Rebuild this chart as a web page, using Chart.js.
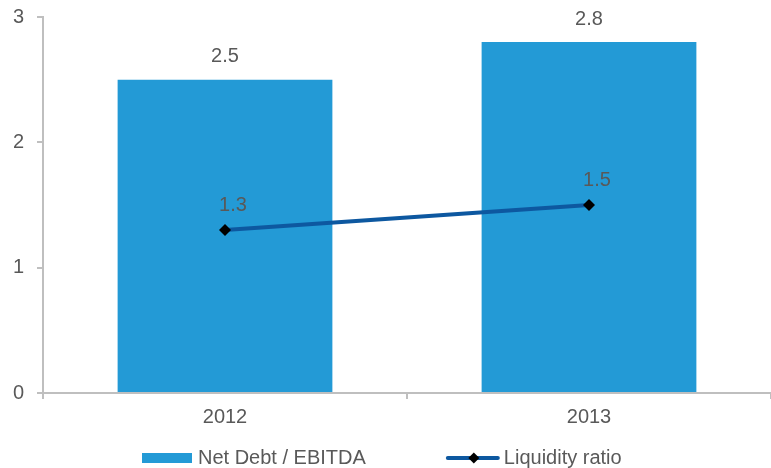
<!DOCTYPE html>
<html>
<head>
<meta charset="utf-8">
<script src="https://cdn.jsdelivr.net/npm/chart.js@4/dist/chart.umd.min.js"></script>
<style>
  html, body { margin: 0; padding: 0; background: #ffffff; }
  #wrap { width: 771px; height: 468px; position: relative; }
</style>
</head>
<body>
<div id="wrap"><canvas id="c" width="771" height="468"></canvas></div>
<script>
const categories = ['2012', '2013'];
const netDebtEbitda = [2.5, 2.8];
const liquidityRatio = [1.3, 1.5];
const yTicks = [0, 1, 2, 3];
const seriesNames = ['Net Debt / EBITDA', 'Liquidity ratio'];

const FONT = '"Liberation Sans", Arial, sans-serif';
const TEXT = '#595959';
const AXIS = '#BFBFBF';
const BAR = '#239AD6';
const LINE = '#0D58A0';

const labelPlugin = {
  id: 'valueLabels',
  afterDatasetsDraw(chart) {
    const ctx = chart.ctx;
    ctx.save();
    ctx.font = '20px ' + FONT;
    ctx.fillStyle = TEXT;
    ctx.textAlign = 'center';
    ctx.textBaseline = 'middle';
    chart.data.datasets.forEach((ds, i) => {
      const meta = chart.getDatasetMeta(i);
      meta.data.forEach((el, j) => {
        const v = ds.data[j];
        if (ds.type === 'line') {
          ctx.fillText(v.toFixed(1), el.x + 8, el.y - 25);
        } else {
          ctx.fillText(v.toFixed(1), el.x, el.y - 23);
        }
      });
    });
    ctx.restore();
  }
};

const legendPlugin = {
  id: 'customLegend',
  afterDraw(chart) {
    const ctx = chart.ctx;
    ctx.save();
    ctx.font = '20px ' + FONT;
    ctx.fillStyle = TEXT;
    ctx.textBaseline = 'middle';
    ctx.textAlign = 'left';
    const cy = 458;
    let x = 142;
    ctx.fillStyle = BAR;
    ctx.fillRect(x, cy - 5, 50, 10);
    ctx.fillStyle = TEXT;
    ctx.fillText(seriesNames[0], x + 56, cy);
    x = x + 56 + ctx.measureText(seriesNames[0]).width + 80;
    ctx.strokeStyle = LINE;
    ctx.lineWidth = 4;
    ctx.lineCap = 'round';
    ctx.beginPath();
    ctx.moveTo(x + 2, cy);
    ctx.lineTo(x + 52, cy);
    ctx.stroke();
    ctx.fillStyle = '#000000';
    ctx.beginPath();
    const dx = x + 28, r = 5.5;
    ctx.moveTo(dx, cy - r);
    ctx.lineTo(dx + r, cy);
    ctx.lineTo(dx, cy + r);
    ctx.lineTo(dx - r, cy);
    ctx.closePath();
    ctx.fill();
    ctx.fillStyle = TEXT;
    ctx.fillText(seriesNames[1], x + 58, cy);
    ctx.restore();
  }
};

function zeroPad(scale) {
  scale.paddingTop = 0; scale.paddingBottom = 0;
  scale.paddingLeft = 0; scale.paddingRight = 0;
}

new Chart(document.getElementById('c'), {
  data: {
    labels: categories,
    datasets: [
      {
        type: 'line',
        label: seriesNames[1],
        data: liquidityRatio,
        borderColor: LINE,
        borderWidth: 4,
        pointStyle: 'rectRot',
        pointRadius: 6,
        pointBackgroundColor: '#000000',
        pointBorderColor: '#000000',
        pointBorderWidth: 0,
        tension: 0,
        order: 0
      },
      {
        type: 'bar',
        label: seriesNames[0],
        data: netDebtEbitda,
        backgroundColor: BAR,
        borderWidth: 0,
        barPercentage: 0.59,
        categoryPercentage: 1.0,
        order: 1
      }
    ]
  },
  options: {
    responsive: false,
    animation: false,
    devicePixelRatio: 1,
    layout: { autoPadding: false, padding: { top: 17, right: 0, left: 0, bottom: 0 } },
    plugins: {
      legend: { display: false },
      tooltip: { enabled: false }
    },
    scales: {
      x: {
        offset: true,
        grid: {
          offset: true,
          drawOnChartArea: false,
          drawTicks: true,
          tickLength: 6,
          color: AXIS,
          lineWidth: 2
        },
        border: { color: AXIS, width: 2 },
        ticks: {
          font: { family: FONT, size: 20 },
          color: TEXT,
          padding: 6
        },
        afterFit(scale) { scale.height = 75; zeroPad(scale); }
      },
      y: {
        min: 0,
        max: 3,
        afterBuildTicks(scale) { scale.ticks = yTicks.map(v => ({ value: v })); },
        grid: {
          drawOnChartArea: false,
          drawTicks: true,
          tickLength: 6,
          color: AXIS,
          lineWidth: 2
        },
        border: { color: AXIS, width: 2 },
        ticks: {
          font: { family: FONT, size: 20 },
          color: TEXT,
          padding: 13
        },
        afterFit(scale) { scale.width = 43; zeroPad(scale); }
      }
    }
  },
  plugins: [labelPlugin, legendPlugin]
});
</script>
</body>
</html>
